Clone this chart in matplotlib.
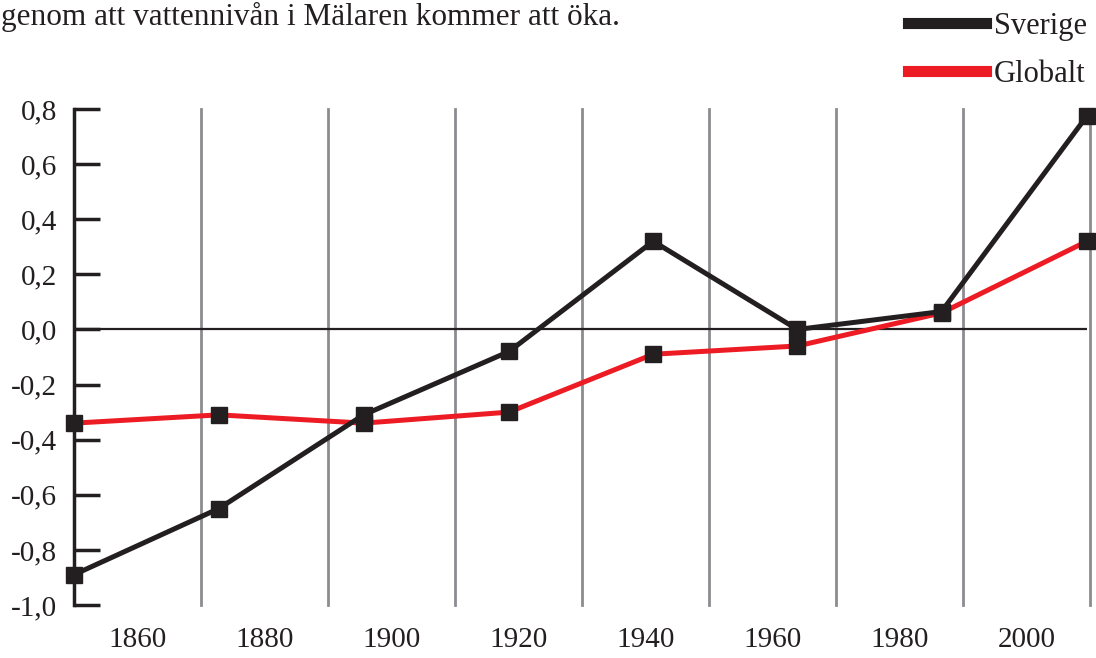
import matplotlib
matplotlib.use("Agg")
import matplotlib.pyplot as plt
from matplotlib.lines import Line2D

# data
years = [1850, 1872.8, 1895.6, 1918.5, 1941.2, 1963.9, 1986.6, 2009.5]
sverige = [-0.89, -0.65, -0.31, -0.08, 0.32, 0.0, 0.065, 0.775]
globalt = [-0.34, -0.31, -0.34, -0.30, -0.09, -0.06, 0.06, 0.32]
ytick_vals = [0.8, 0.6, 0.4, 0.2, 0.0, -0.2, -0.4, -0.6, -0.8, -1.0]
ytick_labels = ["0,8", "0,6", "0,4", "0,2", "0,0", "-0,2", "-0,4", "-0,6", "-0,8", "-1,0"]
xlabel_years = [1860, 1880, 1900, 1920, 1940, 1960, 1980, 2000]
grid_years = [1870, 1890, 1910, 1930, 1950, 1970, 1990, 2010]

BLACK = "#231f20"
RED = "#ed1c24"
GRAY = "#8c8c90"

plt.rcParams["font.family"] = ["Liberation Serif", "DejaVu Serif"]

fig = plt.figure(figsize=(10.96, 6.58), dpi=100)
ax = fig.add_axes([74 / 1096, 1 - 605 / 658, (1087 - 74) / 1096, (605 - 109) / 658])
ax.set_xlim(1850, 2009.5)
ax.set_ylim(-1.0, 0.8)

for g in grid_years:
    ax.axvline(g, color=GRAY, lw=2, zorder=1, clip_on=False)
ax.axhline(0, color=BLACK, lw=1.6, zorder=2)

ax.plot(years, globalt, color=RED, lw=3.6, marker="s", ms=12, mfc=BLACK, mec=BLACK,
        zorder=3, clip_on=False)
ax.plot(years, sverige, color=BLACK, lw=3.6, marker="s", ms=12, mfc=BLACK, mec=BLACK,
        zorder=4, clip_on=False)

for s in ["top", "right", "bottom"]:
    ax.spines[s].set_visible(False)
ax.spines["left"].set_linewidth(2.5)
ax.spines["left"].set_color(BLACK)

ax.set_yticks(ytick_vals)
ax.set_yticklabels(ytick_labels)
ax.tick_params(axis="y", direction="in", length=19, width=2.5, color=BLACK,
               labelsize=21, pad=12, labelcolor=BLACK)
ax.set_xticks(xlabel_years)
ax.set_xticklabels([str(y) for y in xlabel_years])
ax.tick_params(axis="x", length=0, labelsize=21, pad=16, labelcolor=BLACK)

fig.text(0.001, 1 - 17 / 658, "genom att vattennivån i Mälaren kommer att öka.", fontsize=22.5,
         color=BLACK, ha="left", va="center")

handles = [Line2D([], [], color=BLACK, lw=8), Line2D([], [], color=RED, lw=8)]
fig.legend(handles, ["Sverige", "Globalt"], loc="upper right",
           bbox_to_anchor=(1087 / 1096, 1 - 12 / 658), borderaxespad=0, borderpad=0,
           frameon=False, fontsize=22, handlelength=2.55, handletextpad=0.25,
           labelspacing=0.62, labelcolor=BLACK)

fig.savefig("out.png", dpi=100)
